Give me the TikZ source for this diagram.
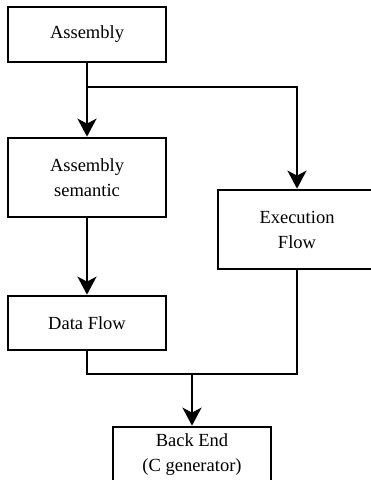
\documentclass[tikz,border=0pt]{standalone}
\usepackage{fontspec}
\setmainfont{Liberation Serif}
\usetikzlibrary{arrows.meta}
\begin{document}
\begin{tikzpicture}[x=1pt,y=-1pt,
  block/.style={draw, line width=2.7pt, fill=white, minimum width=158pt,
    inner sep=0pt, align=center, font=\fontsize{18.5}{25}\selectfont},
  link/.style={line width=2.7pt},
  flow/.style={link, -{Stealth[length=18pt,width=19pt,inset=5pt]}}]
  \clip (0,0) rectangle (371,480);
  \fill[white] (0,0) rectangle (371,480);
  % boxes
  \node[block, minimum height=55pt] (asm)  at (87,34.5)  {Assembly};
  \node[block, minimum height=79pt] (sem)  at (87,177.5) {Assembly\\semantic};
  \node[block, minimum height=79pt] (exe)  at (297,229.5) {Execution\\Flow};
  \node[block, minimum height=54pt] (data) at (87,323)   {Data Flow};
  \node[block, minimum height=56pt] (back) at (192,455)  {Back End\\(C generator)};
  % junction points
  \coordinate (split) at (87,87);
  \coordinate (join)  at (192,374);
  % connectors
  \draw[flow] (asm.south) -- (sem.north);
  \draw[flow] (split) -| (exe.north);
  \draw[flow] (sem.south) -- (data.north);
  \draw[link] (data.south) |- (join) -| (exe.south);
  \draw[flow] (join) -- (back.north);
\end{tikzpicture}
\end{document}
